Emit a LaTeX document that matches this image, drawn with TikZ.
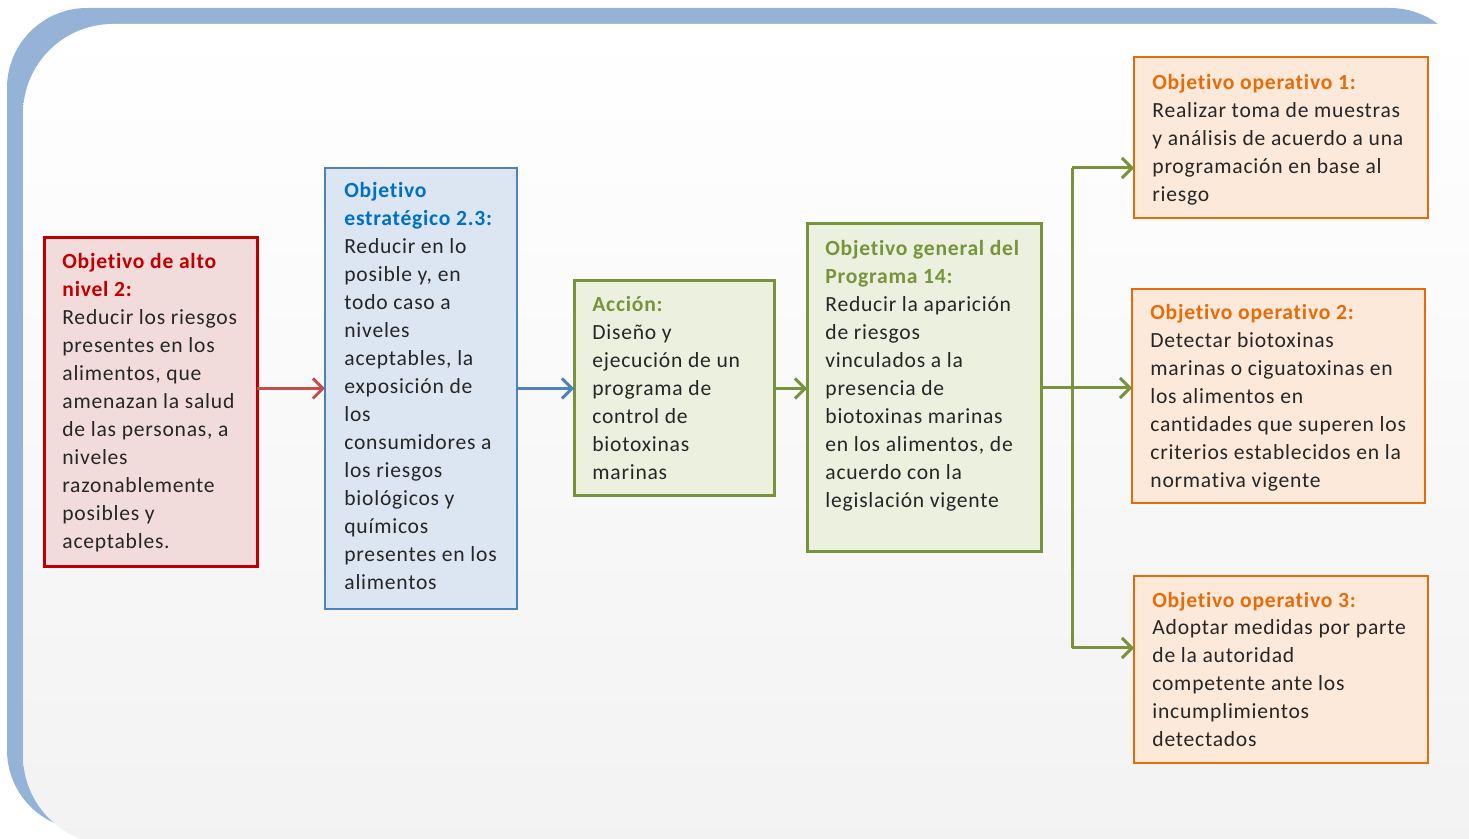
\documentclass[tikz,border=0pt]{standalone}
\usepackage{fontspec}
\setmainfont{Carlito}[LetterSpace=3.5, Ligatures=CommonOff]
\usepackage{xcolor}
\usetikzlibrary{calc}
\usetikzlibrary{arrows.meta}
\usetikzlibrary{positioning}

\definecolor{marco}{HTML}{95B3D7}
\definecolor{textogris}{HTML}{262626}
\definecolor{rojoborde}{HTML}{C00000}
\definecolor{rojofondo}{HTML}{F2DCDB}
\definecolor{rojoflecha}{HTML}{C0504D}
\definecolor{azulborde}{HTML}{4F81BD}
\definecolor{azulfondo}{HTML}{DCE6F2}
\definecolor{azultitulo}{HTML}{0070C0}
\definecolor{verdeborde}{HTML}{77933C}
\definecolor{verdefondo}{HTML}{EBF1DE}
\definecolor{naranjaborde}{HTML}{E46C0A}
\definecolor{naranjafondo}{HTML}{FDE9D9}

\newcommand{\titulo}[2]{\textcolor{#1}{\textbf{#2}}}

\begin{document}
\begin{tikzpicture}
    [x=0.5pt, y=-0.5pt,
    caja/.style={rectangle, inner sep=0pt, outer sep=0pt},
    texto/.style={anchor=west, align=left, inner sep=0pt, text=textogris, font=\fontsize{10.8}{14}\selectfont},
    flecha/.style={line width=1.5pt, -{Straight Barb[length=5pt, width=10pt, line width=1.5pt]}}]
    \useasboundingbox (0,0) rectangle (1469,839);
    % fondo
    \fill[marco, rounded corners=40pt] (7,8) rectangle (1470,830);
    \shade[top color=white, bottom color=black!5, rounded corners=45pt] (23,24) rectangle (1530,845);

    % cajas
    \node(b1)[caja, draw=rojoborde, fill=rojofondo, line width=1.5pt, minimum width=106.5pt, minimum height=164.5pt] at (150.5,402.5) {};
    \node(t1)[texto] at ([xshift=9pt]b1.west) {\titulo{rojoborde}{Objetivo de alto}\\
        \titulo{rojoborde}{nivel 2:}\\
        Reducir los riesgos\\ presentes en los\\ alimentos, que\\ amenazan la salud\\
        de las personas, a\\ niveles\\ razonablemente\\ posibles y\\ aceptables.};

    \node(b2)[caja, draw=azulborde, fill=azulfondo, line width=1pt, minimum width=96pt, minimum height=220.5pt] at (421,388.5) {};
    \node(t2)[texto] at ([xshift=9.5pt,yshift=1pt]b2.west) {\titulo{azultitulo}{Objetivo}\\
        \titulo{azultitulo}{estratégico 2.3:}\\
        Reducir en lo\\ posible y, en\\ todo caso a\\ niveles\\ aceptables, la\\ exposición de\\
        los\\ consumidores a\\ los riesgos\\ biológicos y\\ químicos\\ presentes en los\\ alimentos};

    \node(b3)[caja, draw=verdeborde, fill=verdefondo, line width=1.5pt, minimum width=100pt, minimum height=107.5pt] at (674,388.5) {};
    \node(t3)[texto] at ([xshift=9pt]b3.west) {\titulo{verdeborde}{Acción:}\\
        Diseño y\\ ejecución de un\\ programa de\\ control de\\ biotoxinas\\ marinas};

    \node(b4)[caja, draw=verdeborde, fill=verdefondo, line width=1.5pt, minimum width=117pt, minimum height=164pt] at (924,388) {};
    \node(t4)[texto] at ([xshift=9pt,yshift=6pt]b4.west) {\titulo{verdeborde}{Objetivo general del}\\
        \titulo{verdeborde}{Programa 14:}\\
        Reducir la aparición\\ de riesgos\\ vinculados a la\\ presencia de\\
        biotoxinas marinas\\ en los alimentos, de\\ acuerdo con la\\ legislación vigente};

    \node(b5)[caja, draw=naranjaborde, fill=naranjafondo, line width=1.3pt, minimum width=147pt, minimum height=80.5pt] at (1281,137.5) {};
    \node(t5)[texto] at ([xshift=9pt,yshift=-1pt]b5.west) {\titulo{naranjaborde}{Objetivo operativo 1:}\\
        Realizar toma de muestras\\ y análisis de acuerdo a una\\ programación en base al\\ riesgo};

    \node(b6)[caja, draw=naranjaborde, fill=naranjafondo, line width=1.3pt, minimum width=146.5pt, minimum height=107pt] at (1278.5,396) {};
    \node(t6)[texto] at ([xshift=9pt,yshift=-1pt]b6.west) {\titulo{naranjaborde}{Objetivo operativo 2:}\\
        Detectar biotoxinas\\ marinas o ciguatoxinas en\\ los alimentos en\\
        cantidades que superen los\\ criterios establecidos en la\\ normativa vigente};

    \node(b7)[caja, draw=naranjaborde, fill=naranjafondo, line width=1.3pt, minimum width=147pt, minimum height=93.5pt] at (1281,669.5) {};
    \node(t7)[texto] at ([xshift=9pt]b7.west) {\titulo{naranjaborde}{Objetivo operativo 3:}\\
        Adoptar medidas por parte\\ de la autoridad\\ competente ante los\\ incumplimientos\\ detectados};

    % flechas
    \draw[flecha, rojoflecha] (b1.east |- b2.west) -- (b2.west);
    \draw[flecha, azulborde] (b2.east) -- (b3.west);
    \draw[flecha, verdeborde] (b3.east) -- (b4.west |- b3.east);
    \draw[flecha, verdeborde] (b4.east) -- (b6.west |- b4.east);
    \coordinate (r1) at (1072,168);
    \coordinate (r3) at (1072,648);
    \draw[verdeborde, line width=1.5pt] (r1) -- (r3);
    \foreach \r/\b in {r1/b5,r3/b7}{
        \draw[flecha, verdeborde] (\r) -- (\b.west |- \r);
    }
\end{tikzpicture}
\end{document}
